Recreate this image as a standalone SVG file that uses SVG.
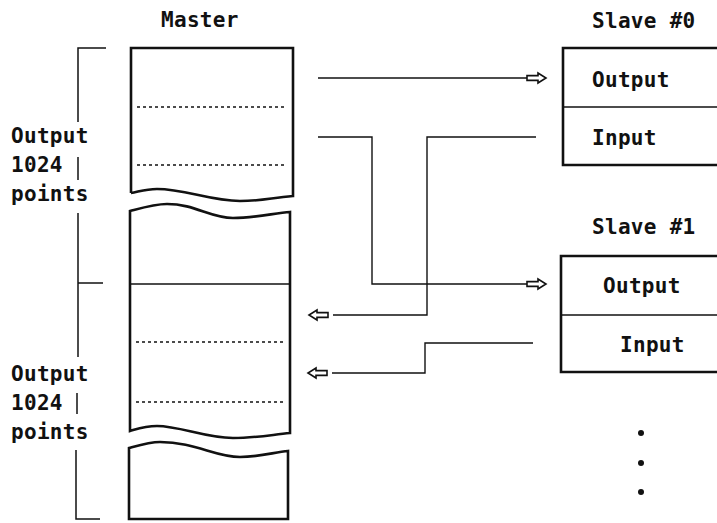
<svg xmlns="http://www.w3.org/2000/svg" width="717" height="523" viewBox="0 0 717 523">
<style>
  text { font-family: "DejaVu Sans Mono", "Liberation Mono", monospace; font-weight: bold; font-size: 21px; fill: #111; letter-spacing: 0.3px; }
  .box { fill: none; stroke: #111; stroke-width: 2.6; stroke-linejoin: miter; }
  .thin { fill: none; stroke: #111; stroke-width: 1.5; }
  .dash { fill: none; stroke: #111; stroke-width: 1.3; stroke-dasharray: 3 3; }
  .conn { fill: none; stroke: #111; stroke-width: 1.4; }
  .arr { fill: #fff; stroke: #111; stroke-width: 1.6; stroke-linejoin: miter; }
  .dot { fill: #111; }
</style>
<defs>
  <polygon id="arrowR" class="arr" points="0,-2.4 11,-2.4 11,-5 19,0 11,5 11,2.4 0,2.4"/>
</defs>
<rect width="717" height="523" fill="#fff"/>

<g id="master">
  <text x="161" y="27">Master</text>
  <path class="box" d="M131,193 L131,48 L293,48 L293,196 C270,198 262,201 240,201 C210,201 185,189 157,189 C145,189 138,192 131,193"/>
  <line class="dash" x1="137" y1="107" x2="287" y2="107"/>
  <line class="dash" x1="137" y1="165" x2="287" y2="165"/>
  <path class="box" d="M130,211 C145,207 155,204 167,204 C195,204 210,218 233,218 C255,218 275,213 290,212 L290,433 C270,435 255,438 233,438 C205,438 180,426 157,426 C145,426 137,429 130,431 Z"/>
  <line class="thin" x1="130" y1="284" x2="290" y2="284"/>
  <line class="dash" x1="136" y1="342" x2="285" y2="342"/>
  <line class="dash" x1="136" y1="402" x2="285" y2="402"/>
  <path class="box" d="M129,448 C140,445 150,442 160,442 C195,442 215,457 240,457 C260,457 275,452 288,451 L288,519 L129,519 Z"/>
</g>

<g id="bracket">
  <polyline class="thin" points="106,48 78,48 78,122"/>
  <line class="thin" x1="78" y1="157" x2="78" y2="180"/>
  <line class="thin" x1="78" y1="213" x2="78" y2="357"/>
  <line class="thin" x1="78" y1="283" x2="103" y2="283"/>
  <line class="thin" x1="77" y1="393" x2="77" y2="414"/>
  <polyline class="thin" points="76,450 76,519 100,519"/>
  <text x="11" y="143">Output</text>
  <text x="11" y="172">1024</text>
  <text x="11" y="201">points</text>
  <text x="11" y="381">Output</text>
  <text x="11" y="410">1024</text>
  <text x="11" y="439">points</text>
</g>

<g id="slave0">
  <text x="592" y="28">Slave #0</text>
  <path class="box" d="M720,48 L563,48 L563,165 L720,165"/>
  <line class="thin" x1="563" y1="107" x2="720" y2="107"/>
  <text x="592" y="87">Output</text>
  <text x="592" y="145">Input</text>
</g>

<g id="slave1">
  <text x="592" y="234">Slave #1</text>
  <path class="box" d="M720,256 L561,256 L561,372 L720,372"/>
  <line class="thin" x1="561" y1="315" x2="720" y2="315"/>
  <text x="603" y="293">Output</text>
  <text x="620" y="352">Input</text>
  <circle class="dot" cx="641" cy="433" r="3"/>
  <circle class="dot" cx="641" cy="463" r="3"/>
  <circle class="dot" cx="641" cy="492" r="3"/>
</g>

<g id="connectors">
  <line class="conn" x1="318" y1="78" x2="527" y2="78"/>
  <use href="#arrowR" transform="translate(527,78)"/>
  <polyline class="conn" points="318,137 372,137 372,284 527,284"/>
  <use href="#arrowR" transform="translate(527,284)"/>
  <polyline class="conn" points="536,137 427,137 427,315 333,315"/>
  <use href="#arrowR" transform="translate(328,315) scale(-1,1)"/>
  <polyline class="conn" points="533,343 425,343 425,373 332,373"/>
  <use href="#arrowR" transform="translate(327,373) scale(-1,1)"/>
</g>
</svg>
